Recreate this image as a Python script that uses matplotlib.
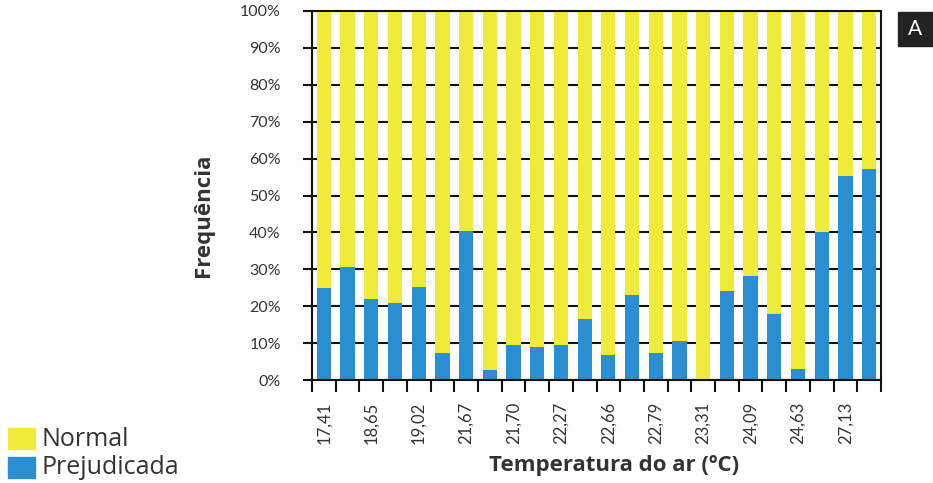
import matplotlib
matplotlib.use("Agg")
import matplotlib.pyplot as plt
from matplotlib.patches import Rectangle
import numpy as np

plt.rcParams['font.family'] = ['Lato', 'DejaVu Sans']

prejudicada = [25, 30.5, 22, 21, 25.2, 7.2, 40.4, 2.8, 9.4, 8.9, 9.4, 16.4,
               6.8, 23, 7.3, 10.6, 0, 24, 28.2, 17.8, 3, 40.2, 55.2, 57.3]
normal = [100 - v for v in prejudicada]
tick_labels = ["17,41", "18,65", "19,02", "21,67", "21,70", "22,27",
               "22,66", "22,79", "23,31", "24,09", "24,63", "27,13"]

blue = "#2A8FD0"
yellow = "#F0EA3A"
txt = "#333333"

W, H = 933, 483
fig = plt.figure(figsize=(W / 100, H / 100), dpi=100)
ax = fig.add_axes([312 / W, 1 - 380 / H, (881 - 312) / W, (380 - 11) / H])

x = np.arange(len(prejudicada))
ax.bar(x, prejudicada, width=0.6, color=blue, zorder=2)
ax.bar(x, normal, bottom=prejudicada, width=0.6, color=yellow, zorder=2)

ax.set_xlim(-0.5, len(prejudicada) - 0.5)
ax.set_ylim(0, 100)
ax.set_yticks(np.arange(0, 101, 10))
ax.set_yticklabels([f"{v}%" for v in range(0, 101, 10)], fontsize=11.5, color=txt)
ax.yaxis.grid(True, color="#111111", linewidth=1.5, zorder=0)
ax.set_axisbelow(True)

ax.set_xticks(np.arange(-0.5, len(prejudicada), 1))
ax.set_xticklabels([])
ax.set_xticks(x[::2], minor=True)
ax.set_xticklabels(tick_labels, minor=True, rotation=90, fontsize=12, color=txt)
ax.tick_params(axis='x', which='major', length=8.6, width=1.5, color="#111111", direction='out')
ax.tick_params(axis='x', which='minor', length=0, pad=15.5)
ax.tick_params(axis='y', length=6.5, width=1.5, color="#111111", pad=16)

for s in ax.spines.values():
    s.set_linewidth(1.5)
    s.set_color("#111111")

fig.text(203 / W, 1 - 215 / H, "Frequência", rotation=90, fontsize=16,
         fontweight='bold', color=txt, ha='center', va='center',
         family=['Open Sans', 'DejaVu Sans'])
fig.text(614 / W, 1 - 466 / H, "Temperatura do ar (ºC)", fontsize=16,
         fontweight='bold', color=txt, ha='center', va='center',
         family=['Open Sans', 'DejaVu Sans'])

# legend
for (yy, col, lab) in [(428, yellow, "Normal"), (457, blue, "Prejudicada")]:
    fig.patches.append(Rectangle((8 / W, 1 - (yy + 21) / H), 27 / W, 21 / H,
                                 transform=fig.transFigure, color=col))
    fig.text(42 / W, 1 - (yy + 11) / H, lab, fontsize=18, color=txt,
             ha='left', va='center', family=['Open Sans', 'DejaVu Sans'])

# panel letter
fig.patches.append(Rectangle((898 / W, 1 - 46 / H), 35 / W, 34 / H,
                             transform=fig.transFigure, color="#222222"))
fig.text(915 / W, 1 - 29 / H, "A", fontsize=15, color="white",
         ha='center', va='center')

fig.savefig("out.png", dpi=100)
